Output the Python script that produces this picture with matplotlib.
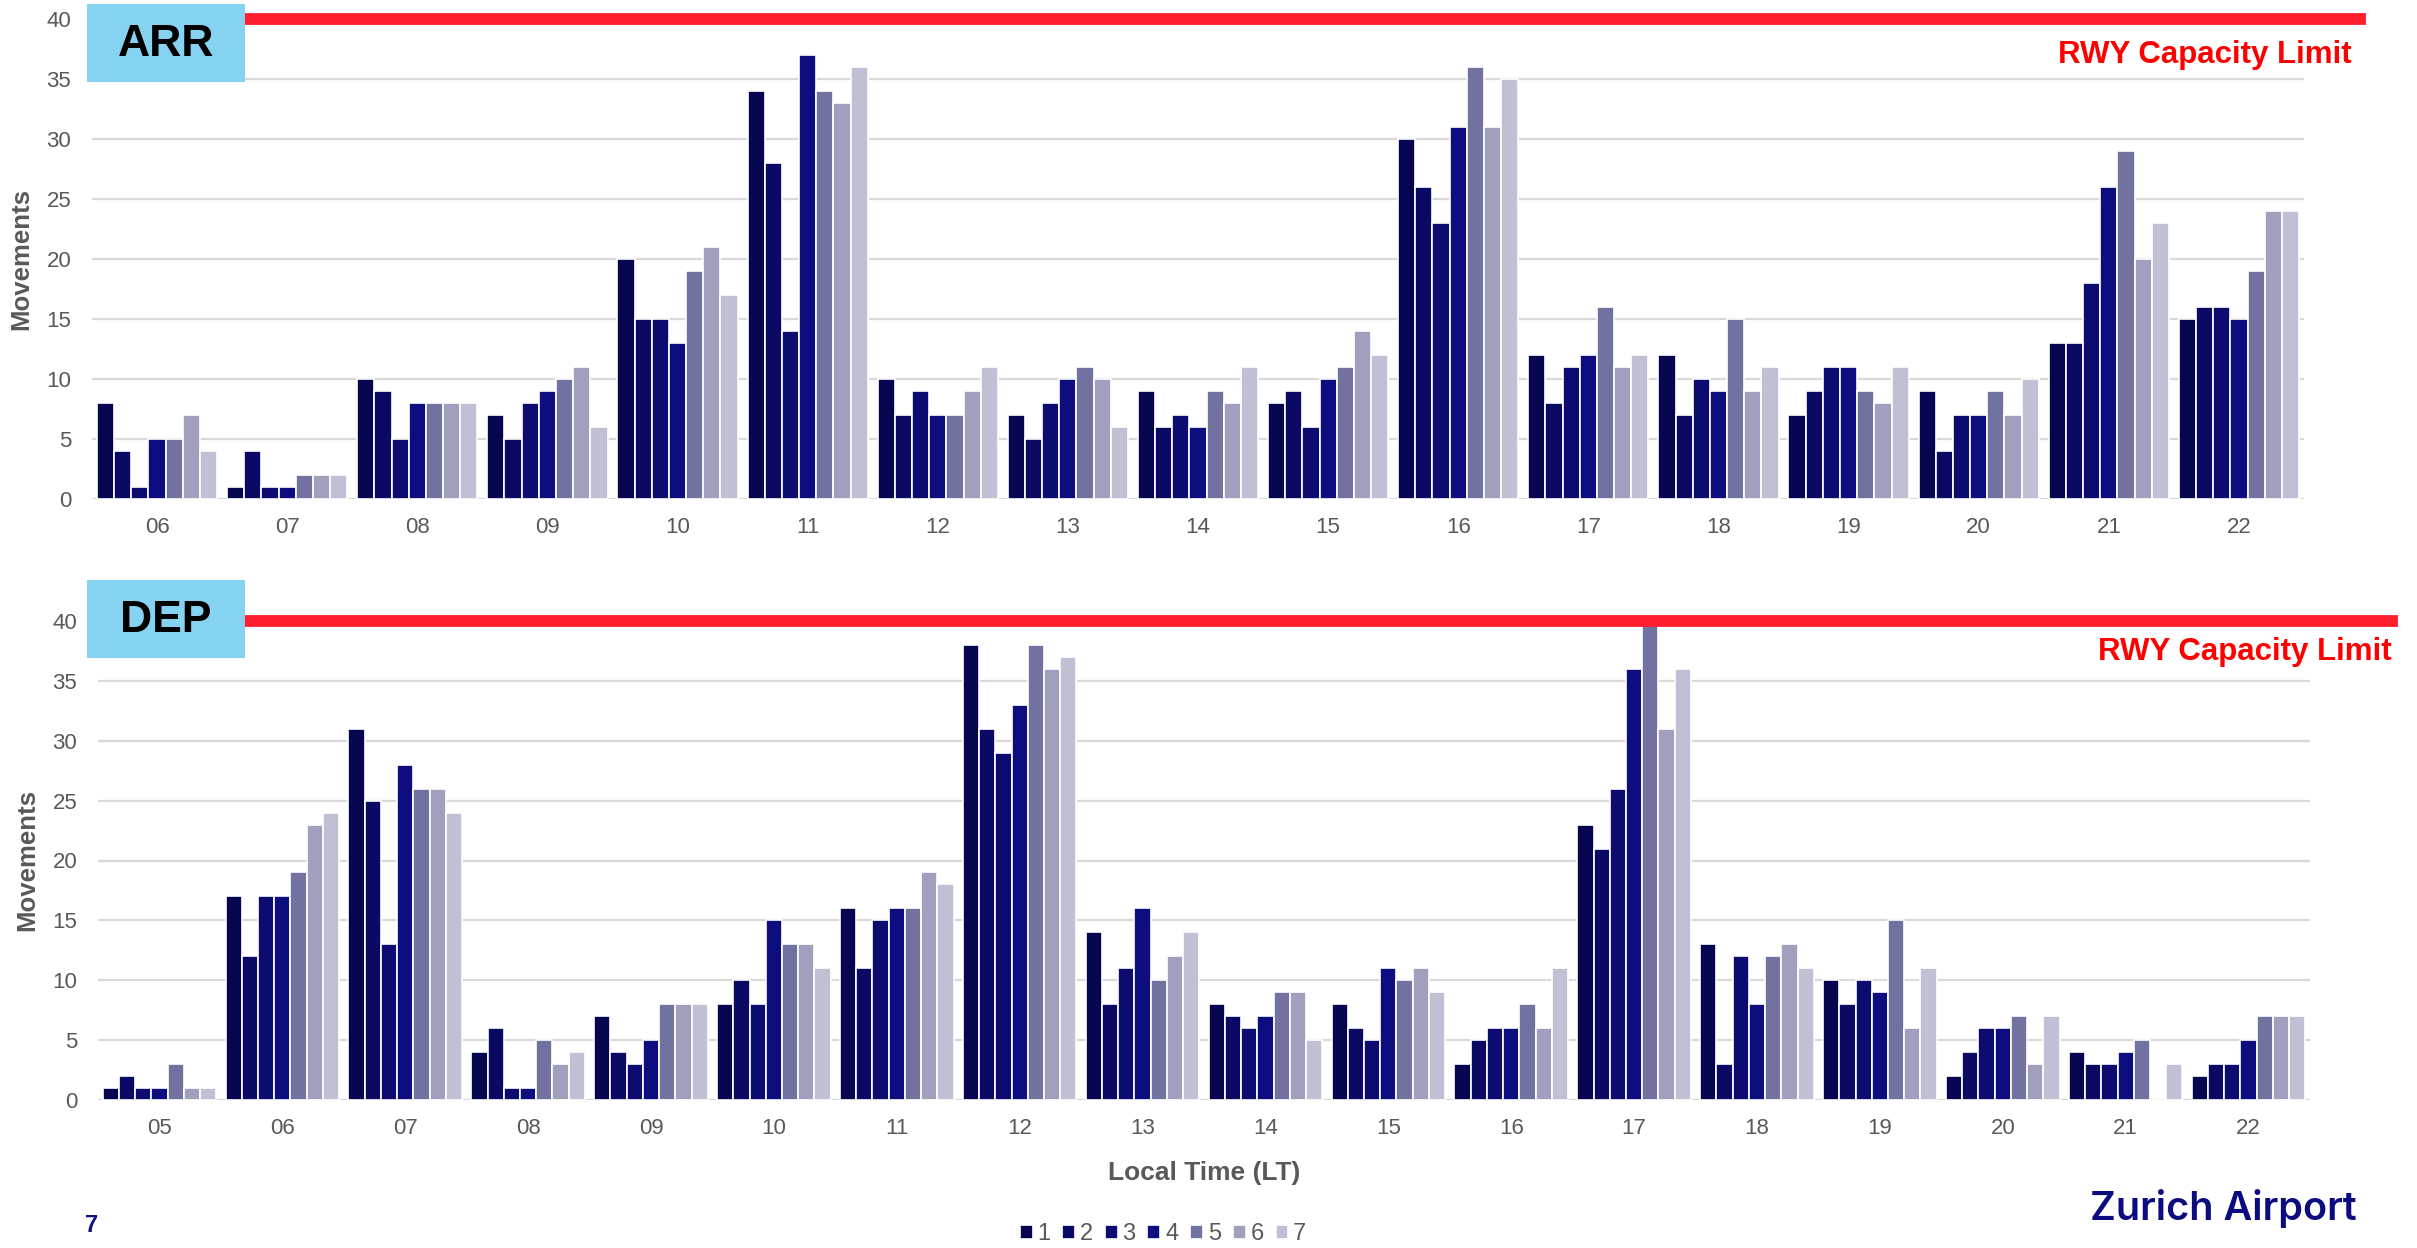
import numpy as np
import matplotlib
matplotlib.use("Agg")
import matplotlib.pyplot as plt
from matplotlib.patches import Rectangle

# Data: movements per hour, one list per day (1-7)
arr_hours = ["06", "07", "08", "09", "10", "11", "12", "13", "14", "15", "16", "17", "18", "19", "20", "21", "22"]
dep_hours = ["05", "06", "07", "08", "09", "10", "11", "12", "13", "14", "15", "16", "17", "18", "19", "20", "21", "22"]
days = ["1", "2", "3", "4", "5", "6", "7"]

arr_day1 = [8, 1, 10, 7, 20, 34, 10, 7, 9, 8, 30, 12, 12, 7, 9, 13, 15]
arr_day2 = [4, 4, 9, 5, 15, 28, 7, 5, 6, 9, 26, 8, 7, 9, 4, 13, 16]
arr_day3 = [1, 1, 5, 8, 15, 14, 9, 8, 7, 6, 23, 11, 10, 11, 7, 18, 16]
arr_day4 = [5, 1, 8, 9, 13, 37, 7, 10, 6, 10, 31, 12, 9, 11, 7, 26, 15]
arr_day5 = [5, 2, 8, 10, 19, 34, 7, 11, 9, 11, 36, 16, 15, 9, 9, 29, 19]
arr_day6 = [7, 2, 8, 11, 21, 33, 9, 10, 8, 14, 31, 11, 9, 8, 7, 20, 24]
arr_day7 = [4, 2, 8, 6, 17, 36, 11, 6, 11, 12, 35, 12, 11, 11, 10, 23, 24]

dep_day1 = [1, 17, 31, 4, 7, 8, 16, 38, 14, 8, 8, 3, 23, 13, 10, 2, 4, 2]
dep_day2 = [2, 12, 25, 6, 4, 10, 11, 31, 8, 7, 6, 5, 21, 3, 8, 4, 3, 3]
dep_day3 = [1, 17, 13, 1, 3, 8, 15, 29, 11, 6, 5, 6, 26, 12, 10, 6, 3, 3]
dep_day4 = [1, 17, 28, 1, 5, 15, 16, 33, 16, 7, 11, 6, 36, 8, 9, 6, 4, 5]
dep_day5 = [3, 19, 26, 5, 8, 13, 16, 38, 10, 9, 10, 8, 40, 12, 15, 7, 5, 7]
dep_day6 = [1, 23, 26, 3, 8, 13, 19, 36, 12, 9, 11, 6, 31, 13, 6, 3, 0, 7]
dep_day7 = [1, 24, 24, 4, 8, 11, 18, 37, 14, 5, 9, 11, 36, 11, 11, 7, 3, 7]

capacity = 40

colors = ["#060650", "#0a0a64", "#0b0b70", "#0d0d80", "#7272a0", "#a0a0be", "#c0c0d4"]
grey = "#595959"
red = "#ff1e2d"
box_blue = "#85d3f1"

W, H = 2417, 1248
plt.rcParams["font.family"] = ["Liberation Sans", "DejaVu Sans"]

fig = plt.figure(figsize=(W / 100, H / 100), dpi=100)


def fx(px):
    return px / W


def fy(py):
    return 1 - py / H


ax1 = fig.add_axes([fx(92), fy(499), fx(2212), 480 / H])
ax2 = fig.add_axes([fx(98), fy(1100), fx(2212), 479 / H])

panels = [
    (ax1, arr_hours, [arr_day1, arr_day2, arr_day3, arr_day4, arr_day5, arr_day6, arr_day7], "ARR", 4, 0.0687, 1.0253, 1.0217, 37.0),
    (ax2, dep_hours, [dep_day1, dep_day2, dep_day3, dep_day4, dep_day5, dep_day6, dep_day7], "DEP", 580, 0.0665, 1.037, 1.037, 37.4),
]

bar_w = 0.132
handles = []
for ax, hours, series, name, box_top, lx0, lx1, tx, ty in panels:
    x = np.arange(len(hours))
    for i, vals in enumerate(series):
        offs = (i - 3) * bar_w
        b = ax.bar(x + offs, vals, width=bar_w, color=colors[i], edgecolor="white",
                   linewidth=1.2, label=days[i], zorder=3)
        if ax is ax1:
            handles.append(b)

    ax.set_xlim(-0.5, len(hours) - 0.5)
    ax.set_ylim(0, 40)
    ax.set_yticks(range(0, 41, 5))
    ax.set_xticks(x)
    ax.set_xticklabels(hours)
    ax.tick_params(axis="both", length=0, labelsize=16, colors=grey)
    ax.tick_params(axis="x", pad=13)
    ax.tick_params(axis="y", pad=15)
    for s in ax.spines.values():
        s.set_visible(False)
    ax.grid(axis="y", color="#d9d9d9", linewidth=1.6, zorder=0)
    ax.set_axisbelow(True)

    ax.set_ylabel("Movements", fontsize=18.5, fontweight="bold", color=grey)
    ax.yaxis.set_label_coords(-0.0265, 0.5)

    # capacity line and label
    ax.axhline(capacity, xmin=lx0, xmax=lx1, color=red, linewidth=8.5, clip_on=False, zorder=6)
    ax.text(tx, ty, "RWY Capacity Limit", transform=ax.get_yaxis_transform(), ha="right",
            va="center", color="#ff0000", fontsize=22.5, fontweight="bold", clip_on=False)

    # ARR / DEP tag
    fig.add_artist(Rectangle((fx(87), fy(box_top + 78)), fx(158), 78 / H,
                             transform=fig.transFigure, facecolor=box_blue, edgecolor="none"))
    fig.text(fx(166), fy(box_top + 40), name, ha="center", va="center",
             fontsize=32, fontweight="bold", color="black")

fig.text(fx(1204), fy(1173), "Local Time (LT)", ha="center", va="center",
         fontsize=19, fontweight="bold", color=grey)

fig.legend(handles=handles, labels=days, loc="center", bbox_to_anchor=(fx(1163), fy(1234)),
           ncol=7, frameon=False, fontsize=17, labelcolor=grey, handlelength=0.55,
           handleheight=0.55, handletextpad=0.2, columnspacing=0.5)

fig.text(fx(85), fy(1232), "7", ha="left", va="baseline", fontsize=17,
         fontweight="bold", color="#10108a")
fig.text(fx(2357), fy(1220), "Zurich Airport", ha="right", va="baseline", fontsize=28.5,
         fontweight="semibold", color="#0c0c80", family=["Inter", "DejaVu Sans"])

fig.savefig("out.png", dpi=100)
